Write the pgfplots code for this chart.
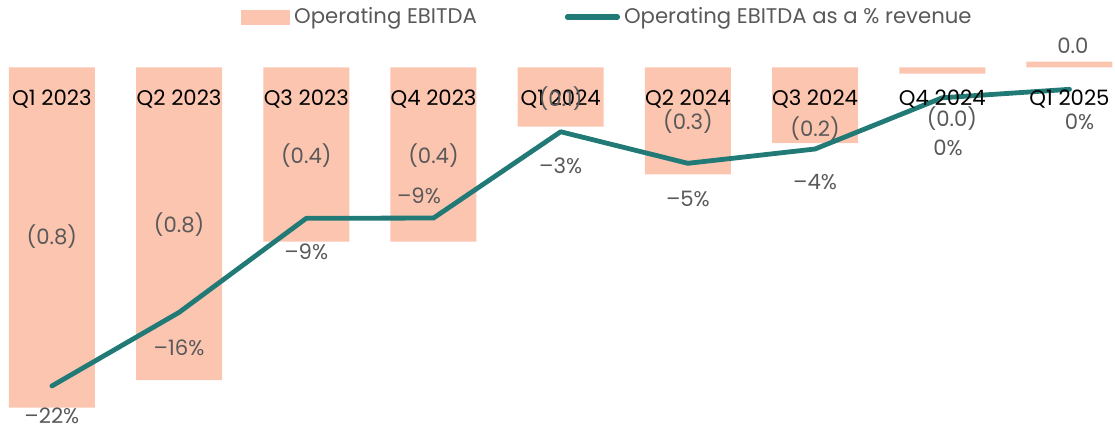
\documentclass[border=0pt]{standalone}
\usepackage{pgfplots}
\pgfplotsset{compat=1.18}
\usepackage{fontspec}
\setmainfont{Poppins}
\definecolor{barcol}{RGB}{252,197,176}
\definecolor{linecol}{RGB}{33,122,118}
\definecolor{labgray}{RGB}{89,89,89}
\pgfplotsset{
  base/.style={scale only axis, width=557.5pt, height=214.5pt,
    xmin=-0.408, xmax=8.358, hide axis, clip=false},
  prim/.style={base, ymin=-0.8779, ymax=0.1633},
  txt/.style={draw=none, mark=none, nodes near coords, point meta=explicit symbolic,
    nodes near coords style={anchor=base, inner sep=0pt, font=\fontsize{10.6}{12}\selectfont, text=#1}},
}
\begin{document}
\begin{tikzpicture}
% bars
\begin{axis}[prim, name=main]
\addplot[ybar, bar width=0.676, bar shift=0pt, fill=barcol, draw=none] coordinates {
(0,-0.826) (1,-0.759) (2,-0.423) (3,-0.423) (4,-0.144) (5,-0.260) (6,-0.184) (7,-0.0155) (8,0.0136)};
\end{axis}
% line (% of revenue)
\begin{axis}[base, ymin=-25.217, ymax=6.846]
\addplot[linecol, line width=2.4pt, mark=none, line join=round, line cap=round] coordinates {
(0,-22.0) (1,-16.5) (2,-9.47) (3,-9.45) (4,-3.0) (5,-5.36) (6,-4.29) (7,-0.46) (8,0.17)};
\end{axis}
% labels and legend
\begin{axis}[prim,
  legend columns=2,
  legend style={at={(rel axis cs:0.2161,0.9604)}, anchor=west, draw=none, fill=none,
    inner sep=0pt, font=\fontsize{10.6}{12}\selectfont, text=labgray,
    /tikz/every even column/.append style={column sep=42pt}}]
\addlegendimage{legend image code/.code={\fill[barcol] (0pt,-3.5pt) rectangle (24pt,3.5pt);}}
\addlegendentry{Operating EBITDA}
\addlegendimage{legend image code/.code={\draw[linecol,line width=2.6pt,line cap=round] (1pt,0pt) -- (26pt,0pt);}}
\addlegendentry{Operating EBITDA as a \% revenue}
% category labels
\addplot[txt=black, forget plot] coordinates {
(0,-0.0939)[Q1 2023] (1,-0.0939)[Q2 2023] (2,-0.0939)[Q3 2023] (3,-0.0939)[Q4 2023]
(4,-0.0939)[Q1 2024] (5,-0.0939)[Q2 2024] (6,-0.0939)[Q3 2024] (7,-0.0939)[Q4 2024] (8,-0.0939)[Q1 2025]};
% bar value labels
\addplot[txt=labgray, forget plot] coordinates {
(0,-0.4308)[(0.8)] (1,-0.3998)[(0.8)] (2,-0.2347)[(0.4)] (3,-0.2347)[(0.4)]
(4,-0.0951)[(0.1)] (5,-0.1522)[(0.3)] (6,-0.1680)[(0.2)] (7.076,-0.1425)[(0.0)] (8.027,0.0323)[0.0]};
% percent labels
\addplot[txt=labgray, forget plot] coordinates {
(0,-0.8650)[--22\%] (1,-0.6983)[--16\%] (2,-0.4653)[--9\%] (2.886,-0.3318)[--9\%]
(4,-0.2566)[--3\%] (5,-0.3367)[--5\%] (6,-0.2978)[--4\%] (7.045,-0.2153)[0\%] (8.079,-0.1498)[0\%]};
\end{axis}
\pgfresetboundingbox
\path (main.south west) rectangle (main.north east);
\end{tikzpicture}
\end{document}
